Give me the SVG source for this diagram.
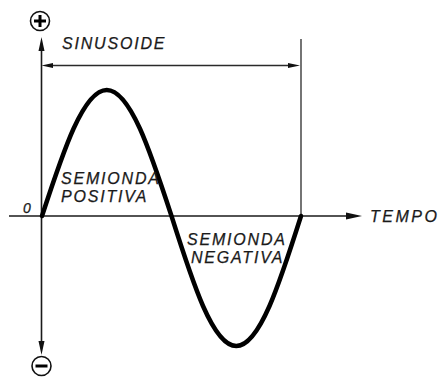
<svg xmlns="http://www.w3.org/2000/svg" width="441" height="378" viewBox="0 0 441 378">
<defs>
<style>
.ax{stroke:#1a1a1a;stroke-width:1.6;fill:none}
.thin{stroke:#2a2a2a;stroke-width:1.3;fill:none}
.wave{stroke:#000;stroke-width:4.5;fill:none;stroke-linecap:round}
.lbl{font-family:"Liberation Sans",Arial,sans-serif;font-style:italic;font-size:16px;letter-spacing:1.8px;fill:#1a1a1a;stroke:#1a1a1a;stroke-width:0.25}
.ah{fill:#111}
.sym{fill:none;stroke:#111;stroke-width:1.6}
.bar{stroke:#000;stroke-width:3}
</style>
</defs>
<rect width="441" height="378" fill="#fff"/>
<g id="connectors">
<line class="ax" x1="41.5" y1="48" x2="41.5" y2="344"/>
<polygon class="ah" points="41.5,37 38.5,51 44.5,51"/>
<polygon class="ah" points="41.5,355 38.5,341 44.5,341"/>
<line class="ax" x1="9" y1="216" x2="350" y2="216"/>
<polygon class="ah" points="362,216 346,212.5 346,219.5"/>
<line class="thin" x1="301" y1="39" x2="301" y2="216"/>
<line class="thin" x1="50" y1="65.5" x2="292" y2="65.5"/>
<polygon class="ah" points="41.5,65.5 53,63 53,68"/>
<polygon class="ah" points="300,65.5 288,63 288,68"/>
</g>
<g id="wave">
<path class="wave" d="M42,216 C63.12,151.45 83.32,90 106.75,90 C130.18,90 150.38,151.45 171.5,216 C192.62,282.6 212.82,346 236.25,346 C259.68,346 279.88,282.6 301,216"/>
</g>
<g id="plus">
<circle class="sym" cx="40" cy="21" r="9.5"/>
<line class="bar" x1="34" y1="21" x2="46" y2="21"/>
<line class="bar" x1="40" y1="15" x2="40" y2="27"/>
</g>
<g id="minus">
<circle class="sym" cx="41.5" cy="366" r="9.5"/>
<line class="bar" x1="35.5" y1="366" x2="47.5" y2="366"/>
</g>
<g id="sinusoide"><text class="lbl" x="62" y="49">SINUSOIDE</text></g>
<g id="positiva">
<text class="lbl" x="61" y="184">SEMIONDA</text>
<text class="lbl" x="61" y="202">POSITIVA</text>
</g>
<g id="negativa">
<text class="lbl" x="187" y="245">SEMIONDA</text>
<text class="lbl" x="191" y="263">NEGATIVA</text>
</g>
<g id="zero"><text class="lbl" x="23" y="213" style="font-size:14px;letter-spacing:0">0</text></g>
<g id="tempo"><text class="lbl" x="370" y="222" style="letter-spacing:2.5px">TEMPO</text></g>
</svg>
